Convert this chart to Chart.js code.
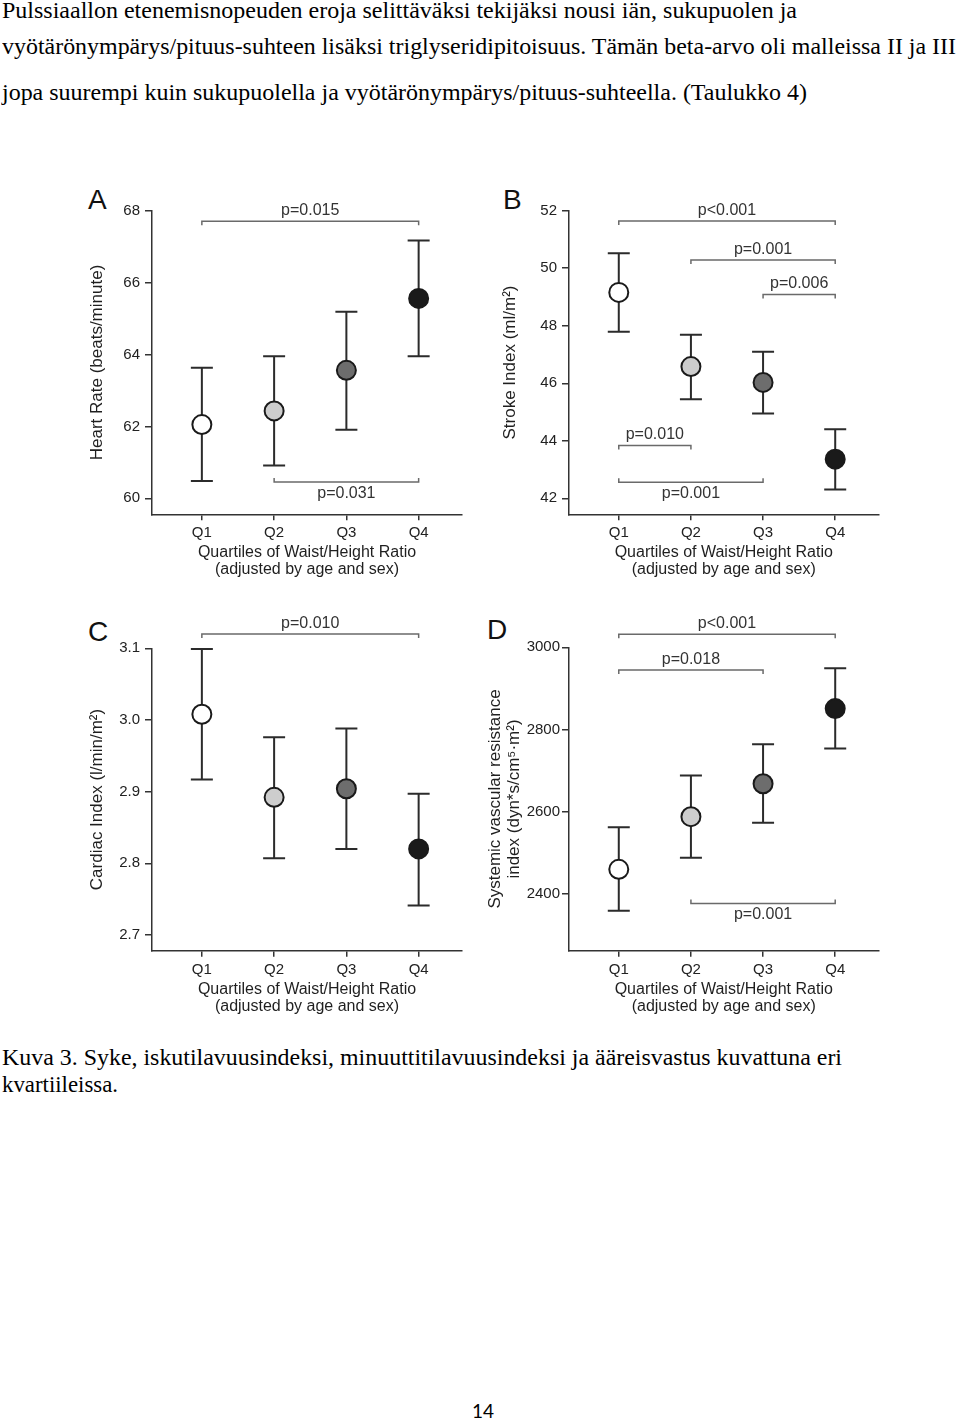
<!DOCTYPE html>
<html>
<head>
<meta charset="utf-8">
<script src="https://cdn.jsdelivr.net/npm/chart.js@4.4.1/dist/chart.umd.min.js"></script>
<style>
  html, body { margin: 0; padding: 0; background: #fff; }
  body { width: 960px; height: 1421px; position: relative; overflow: hidden; }
  .txt { position: absolute; white-space: nowrap; font-family: "Liberation Serif", "Times New Roman", serif; color: #000; line-height: 1; transform-origin: 0 0; }
  .letter { position: absolute; font-family: "Liberation Sans", Arial, sans-serif; font-size: 28px; line-height: 1; color: #111; }
  canvas { position: absolute; }
  #pageno { position: absolute; left: 433px; width: 100px; top: 1401px; text-align: center; font-family: Lato, "Noto Sans", sans-serif; font-size: 19px; line-height: 1; color: #000; }
</style>
</head>
<body>
<div class="txt" style="left:2px;top:-2px;font-size:24px" data-w="795">Pulssiaallon etenemisnopeuden eroja selittäväksi tekijäksi nousi iän, sukupuolen ja</div>
<div class="txt" style="left:2px;top:34px;font-size:24px" data-w="954">vyötärönympärys/pituus-suhteen lisäksi triglyseridipitoisuus. Tämän beta-arvo oli malleissa II ja III</div>
<div class="txt" style="left:2px;top:80px;font-size:24px" data-w="805">jopa suurempi kuin sukupuolella ja vyötärönympärys/pituus-suhteella. (Taulukko 4)</div>

<div class="letter" style="left:88px;top:186px">A</div>
<div class="letter" style="left:503px;top:186px">B</div>
<div class="letter" style="left:88px;top:618px">C</div>
<div class="letter" style="left:487px;top:616px">D</div>

<canvas id="chartA"></canvas>
<canvas id="chartB"></canvas>
<canvas id="chartC"></canvas>
<canvas id="chartD"></canvas>

<div class="txt" style="left:2px;top:1046px;font-size:23px" data-w="840">Kuva 3. Syke, iskutilavuusindeksi, minuuttitilavuusindeksi ja ääreisvastus kuvattuna eri</div>
<div class="txt" style="left:2px;top:1073px;font-size:23px" data-w="116">kvartiileissa.</div>

<div id="pageno">14</div>

<script>
const quartiles = ['Q1', 'Q2', 'Q3', 'Q4'];
const fillColors = ['#ffffff', '#cdcdcd', '#6d6d6d', '#1a1a1a'];

// A - heart rate
const hrMean = [62.05, 62.43, 63.56, 65.56];
const hrLow = [60.48, 60.91, 61.91, 63.95];
const hrHigh = [63.63, 63.95, 65.19, 67.17];
const hrTicks = [60, 62, 64, 66, 68];
const hrP = [
  { from: 1, to: 4, y: 67.71, text: 'p=0.015', side: 'above' },
  { from: 2, to: 4, y: 60.45, text: 'p=0.031', side: 'below' }
];

// B - stroke index
const siMean = [49.16, 46.58, 46.03, 43.36];
const siLow = [47.79, 45.44, 44.95, 42.31];
const siHigh = [50.52, 47.69, 47.10, 44.40];
const siTicks = [42, 44, 46, 48, 50, 52];
const siP = [
  { from: 1, to: 4, y: 51.64, text: 'p<0.001', side: 'above' },
  { from: 2, to: 4, y: 50.29, text: 'p=0.001', side: 'above' },
  { from: 3, to: 4, y: 49.09, text: 'p=0.006', side: 'above' },
  { from: 1, to: 2, y: 43.84, text: 'p=0.010', side: 'above' },
  { from: 1, to: 3, y: 42.56, text: 'p=0.001', side: 'below' }
];

// C - cardiac index
const ciMean = [3.008, 2.892, 2.904, 2.820];
const ciLow = [2.917, 2.807, 2.820, 2.741];
const ciHigh = [3.099, 2.976, 2.988, 2.897];
const ciTicks = [2.7, 2.8, 2.9, 3.0, 3.1];
const ciP = [
  { from: 1, to: 4, y: 3.12, text: 'p=0.010', side: 'above' }
];

// D - systemic vascular resistance index
const svMean = [2460, 2588, 2668, 2851];
const svLow = [2359, 2488, 2573, 2754];
const svHigh = [2562, 2688, 2764, 2949];
const svTicks = [2400, 2600, 2800, 3000];
const svP = [
  { from: 1, to: 4, y: 3032, text: 'p<0.001', side: 'above' },
  { from: 1, to: 3, y: 2945, text: 'p=0.018', side: 'above' },
  { from: 2, to: 4, y: 2377, text: 'p=0.001', side: 'below' }
];

const xTitle = ['Quartiles of Waist/Height Ratio', '(adjusted by age and sex)'];
const fam = '"Liberation Sans", Arial, sans-serif';

const panels = [
  { id: 'chartA', box: [80, 180, 400, 410], area: [152, 210.7, 462, 514.3], yMin: 59.555, yMax: 68,
    mean: hrMean, low: hrLow, high: hrHigh, ticks: hrTicks, dec: 0, brackets: hrP,
    yTitle: 'Heart Rate (beats/minute)', titlePad: 8, tickPad: 5 },
  { id: 'chartB', box: [490, 180, 400, 410], area: [569, 210.7, 879, 514.3], yMin: 41.444, yMax: 52,
    mean: siMean, low: siLow, high: siHigh, ticks: siTicks, dec: 0, brackets: siP,
    yTitle: 'Stroke Index (ml/m²)', titlePad: 10.5, tickPad: 5 },
  { id: 'chartC', box: [80, 610, 400, 410], area: [152, 648.3, 462, 950.7], yMin: 2.678, yMax: 3.1,
    mean: ciMean, low: ciLow, high: ciHigh, ticks: ciTicks, dec: 1, brackets: ciP,
    yTitle: 'Cardiac Index (l/min/m²)', titlePad: 8, tickPad: 5 },
  { id: 'chartD', box: [480, 610, 410, 410], area: [569, 647.3, 879, 950.7], yMin: 2262, yMax: 3000,
    mean: svMean, low: svLow, high: svHigh, ticks: svTicks, dec: 0, brackets: svP,
    yTitle: ['Systemic vascular resistance', 'index (dyn*s/cm⁵·m²)'], titlePad: 6, tickPad: 2 }
];

function makePanel(p) {
  const cv = document.getElementById(p.id);
  const [bx, by, bw, bh] = p.box;
  const [al, at, ar, ab] = p.area;
  cv.width = bw;
  cv.height = bh;
  cv.style.left = bx + 'px';
  cv.style.top = by + 'px';
  cv.style.width = bw + 'px';
  cv.style.height = bh + 'px';
  const yw = al - bx;
  const xh = 64.2;

  const errBars = {
    id: 'errBars',
    beforeDatasetsDraw(chart) {
      const { ctx, scales: { x, y } } = chart;
      ctx.save();
      ctx.strokeStyle = '#2b2b2b';
      ctx.lineWidth = 2;
      p.mean.forEach((m, i) => {
        const px = x.getPixelForValue(i + 1);
        const lo = y.getPixelForValue(p.low[i]);
        const hi = y.getPixelForValue(p.high[i]);
        ctx.beginPath();
        ctx.moveTo(px, lo); ctx.lineTo(px, hi);
        ctx.moveTo(px - 11, lo); ctx.lineTo(px + 11, lo);
        ctx.moveTo(px - 11, hi); ctx.lineTo(px + 11, hi);
        ctx.stroke();
      });
      ctx.restore();
    }
  };

  const brackets = {
    id: 'brackets',
    afterDatasetsDraw(chart) {
      const { ctx, scales: { x, y } } = chart;
      ctx.save();
      ctx.font = '16px ' + fam;
      ctx.textAlign = 'center';
      ctx.textBaseline = 'middle';
      p.brackets.forEach(b => {
        const x1 = x.getPixelForValue(b.from);
        const x2 = x.getPixelForValue(b.to);
        const py = y.getPixelForValue(b.y);
        const dir = b.side === 'above' ? 1 : -1;
        ctx.strokeStyle = '#6a6a6a';
        ctx.lineWidth = 1.5;
        ctx.beginPath();
        ctx.moveTo(x1, py + 4 * dir);
        ctx.lineTo(x1, py);
        ctx.lineTo(x2, py);
        ctx.lineTo(x2, py + 4 * dir);
        ctx.stroke();
        ctx.fillStyle = '#333';
        ctx.fillText(b.text, (x1 + x2) / 2, b.side === 'above' ? py - 10.5 : py + 11);
      });
      ctx.restore();
    }
  };

  return new Chart(cv, {
    type: 'scatter',
    data: {
      datasets: [{
        data: p.mean.map((v, i) => ({ x: i + 1, y: v })),
        pointRadius: 9.5,
        pointHoverRadius: 9.5,
        pointBackgroundColor: fillColors,
        pointBorderColor: '#1a1a1a',
        pointBorderWidth: 2
      }]
    },
    options: {
      responsive: false,
      animation: false,
      devicePixelRatio: 1,
      events: [],
      layout: { padding: { left: 0, top: at - by, right: bx + bw - ar, bottom: by + bh - ab - xh } },
      plugins: { legend: { display: false }, tooltip: { enabled: false } },
      scales: {
        x: {
          type: 'linear',
          min: 0.31,
          max: 4.6,
          afterBuildTicks: s => { s.ticks = quartiles.map((q, i) => ({ value: i + 1 })); },
          afterFit: s => { s.height = xh; },
          ticks: { callback: (v, i) => quartiles[i], color: '#222', font: { family: fam, size: 15 }, padding: 4, maxRotation: 0 },
          grid: { drawOnChartArea: false, drawTicks: true, tickLength: 6, tickColor: '#333', lineWidth: 1.5 },
          border: { display: true, color: '#333', width: 1.5 },
          title: { display: true, text: xTitle, color: '#1f1f1f', font: { family: fam, size: 16, lineHeight: 1.07 }, padding: { top: 0, bottom: 0 } }
        },
        y: {
          min: p.yMin,
          max: p.yMax,
          afterBuildTicks: s => { s.ticks = p.ticks.map(v => ({ value: v })); },
          afterFit: s => { s.width = yw; },
          ticks: { callback: v => v.toFixed(p.dec), color: '#222', font: { family: fam, size: 15 }, padding: p.tickPad },
          grid: { drawOnChartArea: false, drawTicks: true, tickLength: 7, tickColor: '#333', lineWidth: 1.5 },
          border: { display: true, color: '#333', width: 1.5 },
          title: { display: true, text: p.yTitle, color: '#1f1f1f', font: { family: fam, size: 17, lineHeight: 1.12 }, padding: { top: p.titlePad, bottom: 0 } }
        }
      }
    },
    plugins: [errBars, brackets]
  });
}

panels.forEach(makePanel);

// squeeze the text lines to the widths of the scanned page
document.querySelectorAll('.txt').forEach(el => {
  const w = el.getBoundingClientRect().width;
  const target = +el.dataset.w;
  el.style.transform = 'scaleX(' + (target / w) + ')';
});
</script>
</body>
</html>
